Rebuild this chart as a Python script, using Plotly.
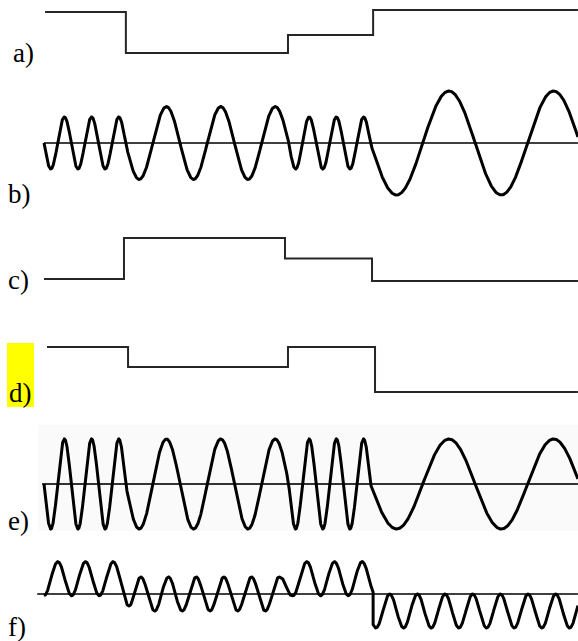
import numpy as np
import plotly.graph_objects as go

# ---------------- data (time in units of the short carrier period) ----------------
labels = ["a)", "b)", "c)", "d)", "e)", "f)"]
t_end = 19.63
wave_edges = [0, 3, 9, 12, t_end]

a_edges = [0.04, 3.01, 8.97, 12.1, t_end]
a_levels = [1.0, -1.0, -0.12, 1.1]

b_periods = [1, 2, 1, 3.85]
b_amps = [0.5, 0.7, 0.5, 1.0]

c_edges = [0.0, 2.94, 8.86, 12.06, t_end]
c_levels = [0.0, 2.0, 1.0, -0.1]

d_edges = [0.11, 3.09, 8.97, 12.17, t_end]
d_levels = [1.0, 0.0, 1.0, -1.25]

e_periods = [1, 2, 1, 3.85]
e_amps = [1.0, 1.0, 1.0, 1.0]

f_period = 1.017
f_amp = 1.0
# centre level of f) (piecewise linear in time)
f_level_t = [0.0, 2.85, 3.2, 8.68, 9.12, 12.1, 12.1, t_end]
f_level = [0.9, 0.9, 0.0, 0.0, 0.9, 0.9, -1.0, -1.0]

# ---------------- helpers ----------------
def step_xy(edges, levels):
    xs, ys = [], []
    for i, lv in enumerate(levels):
        xs += [edges[i], edges[i + 1]]
        ys += [lv, lv]
    return xs, ys


def fm_xy(edges, periods, amps):
    xs, ys = [], []
    phase0 = 0.0
    for i in range(len(periods)):
        t = np.linspace(edges[i], edges[i + 1], 600)
        ph = phase0 + (t - edges[i]) / periods[i]
        xs += list(t)
        ys += list(-amps[i] * np.sin(2 * np.pi * ph))
        phase0 = ph[-1]
    return xs, ys


def dc_xy(level_t, level, period, amp):
    xs, ys = [], []
    for i in range(len(level_t) - 1):
        t0, t1 = level_t[i], level_t[i + 1]
        if t1 <= t0:
            continue
        t = np.linspace(t0, t1, max(int((t1 - t0) * 120), 4))
        lv = np.interp(t, [t0, t1], [level[i], level[i + 1]])
        xs += list(t)
        ys += list(lv - amp * np.cos(2 * np.pi * t / period))
    return xs, ys


W, H = 578, 641
X0_PX, UNIT_PX = 44, 27.2

# pixel position of each row's zero line and px per unit
rows = {
    "a": (32.5, 20.5),
    "b": (143, 52),
    "c": (279, 20.5),
    "d": (367, 20),
    "e": (484, 45),
    "f": (594, 17),
}
axis_ids = {"a": "y", "b": "y2", "c": "y3", "d": "y4", "e": "y5", "f": "y6"}

fig = go.Figure()
STEP = dict(color="#262626", width=2)
WAVE = dict(color="black", width=3)
BASE = dict(color="black", width=1.5)

ax, ay = step_xy(a_edges, a_levels)
fig.add_trace(go.Scatter(x=ax, y=ay, mode="lines", line=STEP, yaxis="y"))

fig.add_trace(go.Scatter(x=[0, t_end], y=[0, 0], mode="lines", line=BASE, yaxis="y2"))
bx, by = fm_xy(wave_edges, b_periods, b_amps)
fig.add_trace(go.Scatter(x=bx, y=by, mode="lines", line=WAVE, yaxis="y2"))

cx, cy = step_xy(c_edges, c_levels)
fig.add_trace(go.Scatter(x=cx, y=cy, mode="lines", line=STEP, yaxis="y3"))

dx, dy = step_xy(d_edges, d_levels)
fig.add_trace(go.Scatter(x=dx, y=dy, mode="lines", line=STEP, yaxis="y4"))

fig.add_trace(go.Scatter(x=[-0.07, t_end], y=[0, 0], mode="lines",
                         line=dict(color="#333", width=2), yaxis="y5"))
ex, ey = fm_xy(wave_edges, e_periods, e_amps)
fig.add_trace(go.Scatter(x=ex, y=ey, mode="lines", line=WAVE, yaxis="y5"))

fig.add_trace(go.Scatter(x=[-0.25, t_end], y=[0, 0], mode="lines", line=BASE, yaxis="y6"))
fx, fy = dc_xy(f_level_t, f_level, f_period, f_amp)
fig.add_trace(go.Scatter(x=fx, y=fy, mode="lines", line=WAVE, yaxis="y6"))

hidden = dict(visible=False, showgrid=False, zeroline=False, fixedrange=True)
layout_axes = {}
for k, (zero_px, scale) in rows.items():
    name = "yaxis" if axis_ids[k] == "y" else "yaxis" + axis_ids[k][1:]
    rng = [(zero_px - H) / scale, zero_px / scale]
    ax_def = dict(hidden, range=rng, domain=[0, 1], anchor="x")
    if axis_ids[k] != "y":
        ax_def["overlaying"] = "y"
    layout_axes[name] = ax_def

fig.update_layout(
    width=W, height=H,
    margin=dict(l=0, r=0, t=0, b=0),
    paper_bgcolor="white", plot_bgcolor="rgba(0,0,0,0)",
    showlegend=False,
    xaxis=dict(hidden, range=[-X0_PX / UNIT_PX, (W - X0_PX) / UNIT_PX], domain=[0, 1]),
    **layout_axes,
)

# faint grey panel behind e) and yellow highlight behind "d)"
fig.add_shape(type="rect", xref="paper", yref="paper",
              x0=38 / W, x1=1, y0=1 - 531 / H, y1=1 - 425 / H,
              fillcolor="#fafafa", line=dict(width=0), layer="below")
fig.add_shape(type="rect", xref="paper", yref="paper",
              x0=7 / W, x1=34 / W, y0=1 - 407 / H, y1=1 - 343 / H,
              fillcolor="#ffff00", line=dict(width=0), layer="below")

label_pos = [(11, 53), (6, 194), (6, 280), (7, 393), (6, 521), (6, 627)]
for lab, (px, py) in zip(labels, label_pos):
    fig.add_annotation(text=lab, xref="paper", yref="paper",
                       x=px / W, y=1 - py / H, xanchor="left", yanchor="middle",
                       showarrow=False,
                       font=dict(family="Liberation Serif", size=27, color="black"))

fig.write_html("out.html", config={"displayModeBar": False},
               post_script="document.body.style.margin='0';")
